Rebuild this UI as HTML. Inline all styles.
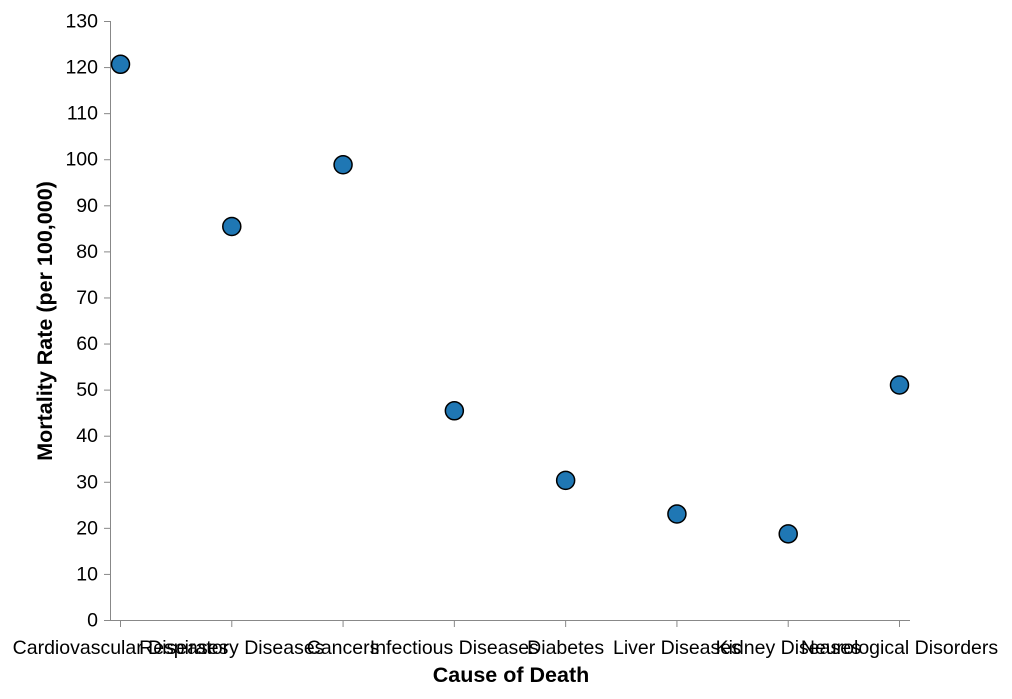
<!DOCTYPE html>
<html><head><meta charset="utf-8"><style>
body{margin:0;background:#fff}
text{font-family:"Liberation Sans",Arial,sans-serif;fill:#000}
</style></head><body>
<svg id="chart" width="1012" height="694" xmlns="http://www.w3.org/2000/svg"></svg>
<script>
const categories=["Cardiovascular Diseases","Respiratory Diseases","Cancers","Infectious Diseases","Diabetes","Liver Diseases","Kidney Diseases","Neurological Disorders"];
const values=[120.6,85.4,98.8,45.4,30.3,23.0,18.7,51.0];
const yTicks=[0,10,20,30,40,50,60,70,80,90,100,110,120,130];
const svg=document.getElementById('chart');
const NS='http://www.w3.org/2000/svg';
const L=110,R=910,T=21,B=620,yMax=130;
const x=i=>L+10.5+i*((R-L-21)/(categories.length-1));
const y=v=>B-(v/yMax)*(B-T);
function mk(t,a,p){const e=document.createElementNS(NS,t);for(const k in a)e.setAttribute(k,a[k]);(p||svg).appendChild(e);return e;}
const yAxis=mk('g',{});


mk('line',{x1:L+0.5,x2:L+0.5,y1:T,y2:B,stroke:'#888'},yAxis);
yTicks.forEach(v=>{
  mk('line',{x1:L-6,x2:L,y1:y(v)+0.5,y2:y(v)+0.5,stroke:'#888'},yAxis);
  const t=mk('text',{x:L-12,y:y(v)+6.5,'text-anchor':'end','font-size':19.5},yAxis);
  
  
  t.textContent=v;
});
const xAxis=mk('g',{});


mk('line',{x1:L,x2:R,y1:B+0.5,y2:B+0.5,stroke:'#888'},xAxis);
categories.forEach((c,i)=>{
  mk('line',{x1:x(i),x2:x(i),y1:B,y2:B+7,stroke:'#888'},xAxis);
  const t=mk('text',{x:x(i),y:B+34,'text-anchor':'middle','font-size':19.5},xAxis);
  
  
  t.textContent=c;
});
const xt=mk('text',{x:511,y:682,'text-anchor':'middle','font-size':21.5,'font-weight':'bold'});


xt.textContent='Cause of Death';
const yt=mk('text',{x:0,y:0,transform:'translate(52,321) rotate(-90)','text-anchor':'middle','font-size':21.5,'font-weight':'bold'});


yt.textContent='Mortality Rate (per 100,000)';
values.forEach((v,i)=>{
  const c=mk('circle',{cx:x(i),cy:y(v),r:9,fill:'#1f77b4',stroke:'#000','stroke-width':1.5});
  
  
});
</script>
</body></html>
